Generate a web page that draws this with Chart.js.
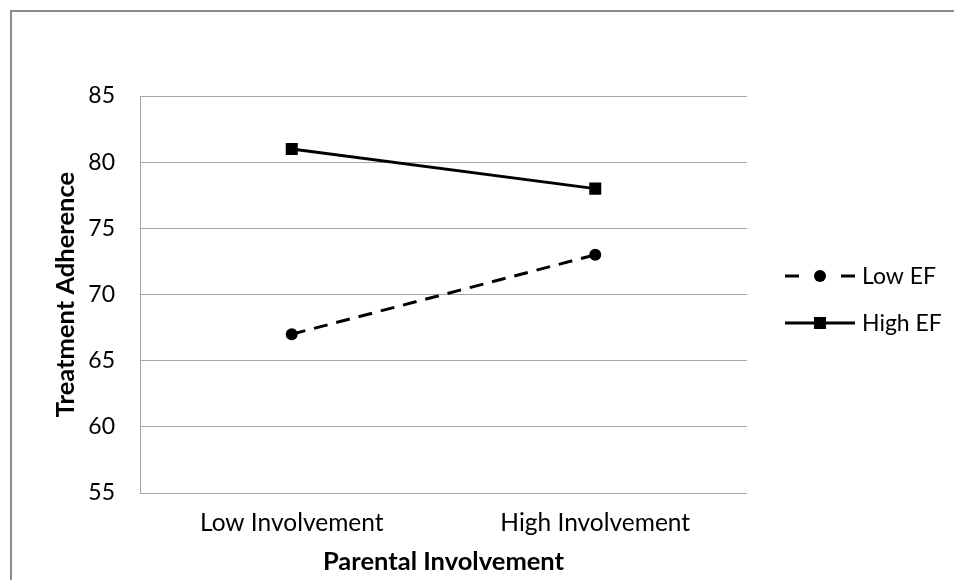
<!DOCTYPE html>
<html>
<head>
<meta charset="utf-8">
<script src="https://cdn.jsdelivr.net/npm/chart.js@4.4.1/dist/chart.umd.min.js"></script>
<style>
  html, body { margin: 0; padding: 0; background: #fff; }
  #wrap { position: relative; width: 954px; height: 580px; }
  #frame { position: absolute; left: 10px; top: 10px; right: 0; bottom: 0;
           border-top: 2px solid #8c8c8c; border-left: 2px solid #8c8c8c; box-sizing: border-box; pointer-events: none; }
  canvas { position: absolute; left: 0; top: 0; }
</style>
</head>
<body>
<div id="wrap">
  <canvas id="c" width="954" height="580"></canvas>
  <div id="frame"></div>
</div>
<script>
const categories = ['Low Involvement', 'High Involvement'];
const lowEF = [67, 73];
const highEF = [81, 78];
const seriesNames = ['Low EF', 'High EF'];
const yMin = 55, yMax = 85, yStep = 5;
const yTitle = 'Treatment Adherence';
const xTitle = 'Parental Involvement';

const FONT = 'Lato, "Open Sans", sans-serif';

const sideLegend = {
  id: 'sideLegend',
  afterDraw(chart) {
    const ctx = chart.ctx;
    const ca = chart.chartArea;
    const x0 = ca.right + 38;
    const len = 70;
    const cy = (ca.top + ca.bottom) / 2 + 5;
    const rows = [cy - 23.5, cy + 23.5];
    chart.data.datasets.forEach((ds, i) => {
      const y = rows[i];
      ctx.save();
      ctx.strokeStyle = ds.borderColor;
      ctx.lineWidth = ds.borderWidth;
      ctx.beginPath();
      if (ds.borderDash && ds.borderDash.length) {
        ctx.moveTo(x0, y); ctx.lineTo(x0 + 14, y);
        ctx.moveTo(x0 + len - 14, y); ctx.lineTo(x0 + len, y);
      } else {
        ctx.moveTo(x0, y); ctx.lineTo(x0 + len, y);
      }
      ctx.stroke();
      ctx.fillStyle = ds.pointBackgroundColor;
      const mx = x0 + len / 2;
      const r = ds.pointRadius;
      if (ds.pointStyle === 'rect') {
        const s = r * Math.SQRT2;
        ctx.fillRect(mx - s / 2, y - s / 2, s, s);
      } else {
        ctx.beginPath(); ctx.arc(mx, y, r, 0, Math.PI * 2); ctx.fill();
      }
      ctx.fillStyle = '#000';
      ctx.font = '23px ' + FONT;
      ctx.textAlign = 'left';
      ctx.textBaseline = 'middle';
      ctx.fillText(ds.label, x0 + len + 7, y + 1);
      ctx.restore();
    });
  }
};

new Chart(document.getElementById('c'), {
  type: 'line',
  data: {
    labels: categories,
    datasets: [
      { label: seriesNames[0], data: lowEF, borderColor: '#000', backgroundColor: '#000',
        borderWidth: 3, borderDash: [14, 9], pointStyle: 'circle', pointRadius: 6,
        pointBackgroundColor: '#000', pointBorderColor: '#000', pointBorderWidth: 0, fill: false, tension: 0 },
      { label: seriesNames[1], data: highEF, borderColor: '#000', backgroundColor: '#000',
        borderWidth: 3, pointStyle: 'rect', pointRadius: 8.5,
        pointBackgroundColor: '#000', pointBorderColor: '#000', pointBorderWidth: 0, fill: false, tension: 0 }
    ]
  },
  options: {
    responsive: false,
    animation: false,
    devicePixelRatio: 1,
    layout: { padding: { top: 96, right: 207, left: 0, bottom: 0 } },
    plugins: { legend: { display: false }, tooltip: { enabled: false }, title: { display: false } },
    scales: {
      x: {
        type: 'category',
        offset: true,
        grid: { display: false, drawTicks: false },
        border: { display: false },
        ticks: { color: '#000', font: { family: FONT, size: 24.5 }, padding: 15, maxRotation: 0 },
        title: { display: true, text: xTitle, color: '#000', font: { family: FONT, size: 25.5, weight: 'bold' }, padding: { top: 0, bottom: 3 } },
        afterFit(scale) { scale.height = 87; }
      },
      y: {
        min: yMin, max: yMax,
        grid: { color: '#a6a6a6', lineWidth: 1, drawTicks: false },
        border: { display: true, color: '#a6a6a6', width: 1 },
        ticks: { stepSize: yStep, color: '#000', font: { family: FONT, size: 23 }, padding: 25 },
        title: { display: true, text: yTitle, color: '#000', font: { family: FONT, size: 25.5, weight: 'bold' }, padding: { top: 50, bottom: 0 } },
        afterFit(scale) { scale.width = 140; }
      }
    }
  },
  plugins: [sideLegend]
});
</script>
</body>
</html>
